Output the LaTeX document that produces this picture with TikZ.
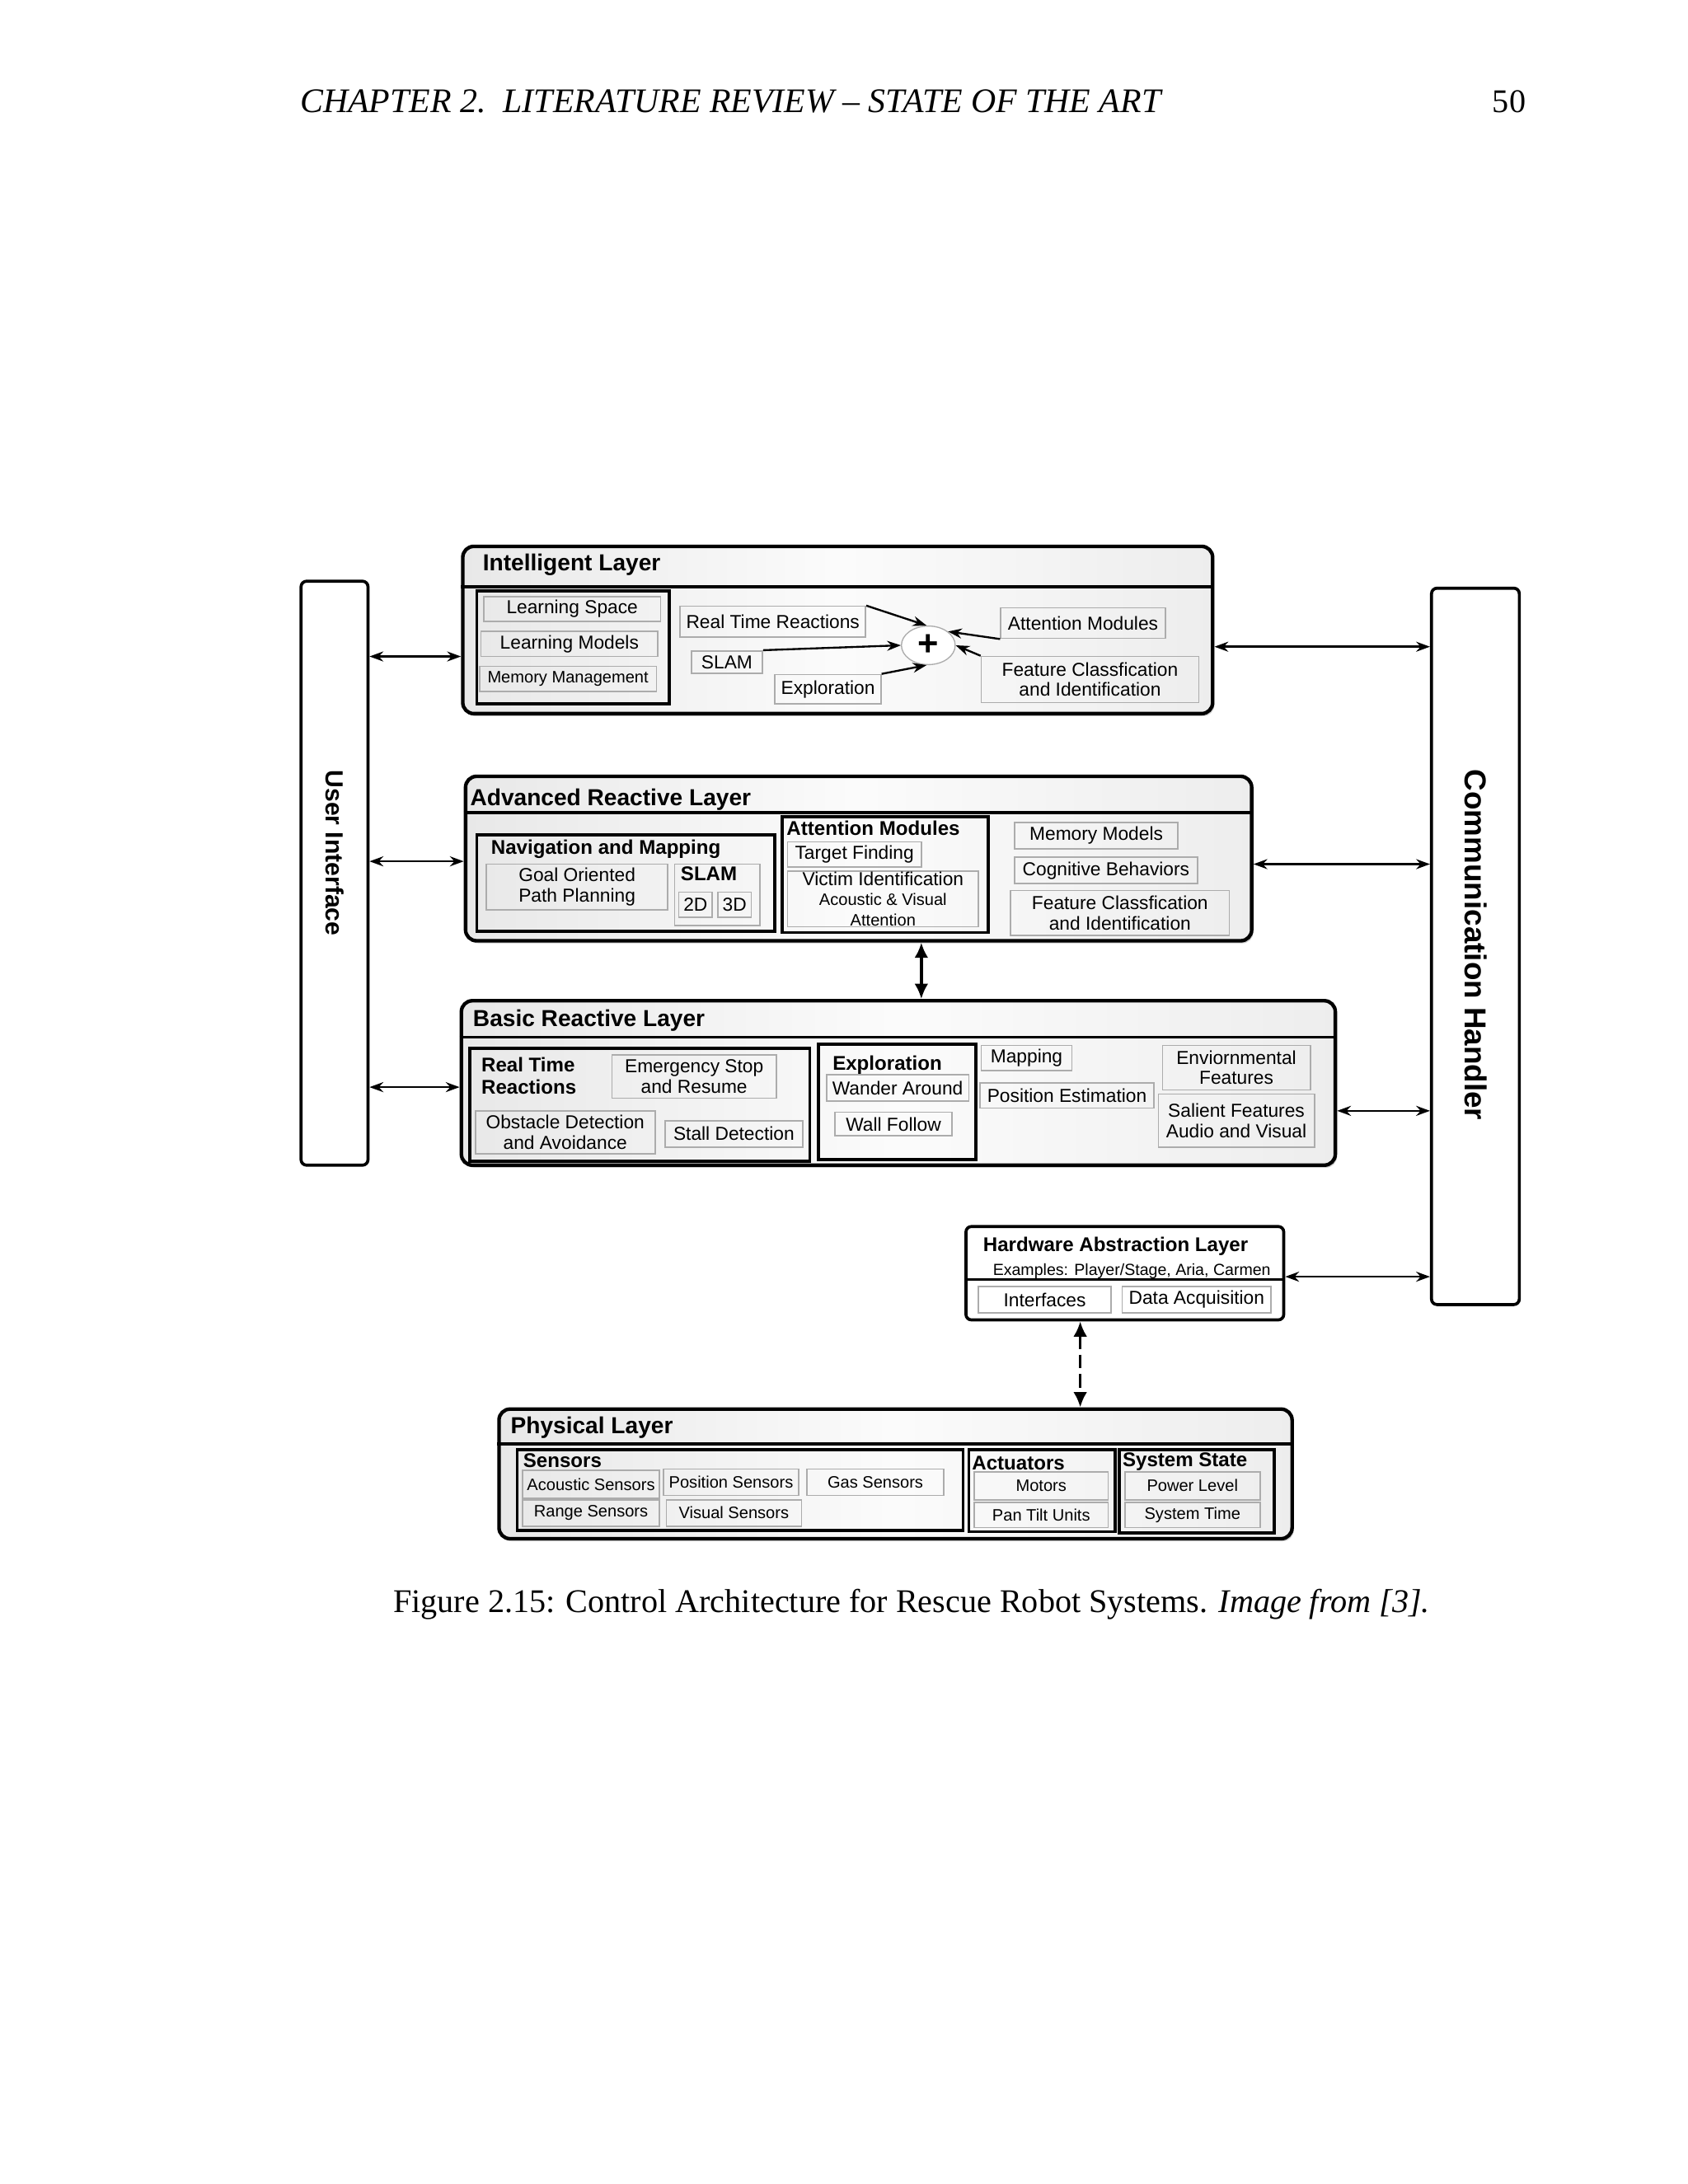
\documentclass[tikz,border=0pt]{standalone}
\usepackage{fontspec}
\setmainfont{Liberation Serif}
\setsansfont{Liberation Sans}
\usetikzlibrary{fit,arrows.meta,shapes.geometric,shadows}

\tikzset{%
	layerbox/.style={
		draw, line width=1.3pt, rounded corners=4pt, inner sep=0pt,
		drop shadow={shadow xshift=0.6pt, shadow yshift=-0.9pt, opacity=0.4},
		left color=gray!18, right color=gray!14, middle color=gray!3
	},
	groupbox/.style={draw, line width=1.1pt, inner sep=0pt},
	itembox/.style={draw=gray!65, line width=0.5pt, inner sep=0pt},
	itemtext/.style={inner sep=0pt, align=center, font=\sffamily\fontsize{6.8}{7.4}\selectfont},
	small itemtext/.style={itemtext, font=\sffamily\fontsize{6}{6.8}\selectfont},
	layer title/.style={anchor=west, inner sep=0pt, font=\sffamily\bfseries\fontsize{8.4}{10}\selectfont},
	group title/.style={anchor=west, inner sep=0pt, font=\sffamily\bfseries\fontsize{7.2}{8.2}\selectfont},
	sidebox/.style={draw, line width=1.1pt, rounded corners=2pt, fill=white, inner sep=0pt},
	biarrow/.style={<->, line width=0.8pt},
	big biarrow/.style={{Latex[length=5.5pt,width=5pt]}-{Latex[length=5.5pt,width=5pt]}, line width=1pt},
}

\begin{document}
\begin{tikzpicture}[x=0.5054pt, y=-0.5054pt, >={Stealth[length=5pt,width=3.6pt]}]
\path[fill=white, use as bounding box] (0,0) rectangle (1211,1567);

% page header and caption
\node[anchor=base west, inner sep=0pt, font=\fontsize{12.5}{14}\selectfont\itshape] (header) at (215,81) {CHAPTER 2.\ \ LITERATURE REVIEW – STATE OF THE ART};
\node[anchor=base east, inner sep=0pt, font=\fontsize{12}{14}\selectfont] (pagenum) at (1095,81) {50};
\node[anchor=base, inner sep=0pt, font=\fontsize{12}{14}\selectfont] (caption) at (654,1157) {Figure 2.15: Control Architecture for Rescue Robot Systems. \textit{Image from [3].}};

% side boxes
\node[sidebox, fit={(216,417) (264,836)}] (ui) {};
\node[rotate=-90, font=\sffamily\bfseries\fontsize{9}{10}\selectfont] (uitext) at (240,612) {User Interface};
\node[sidebox, fit={(1027,422) (1090,936)}] (ch) {};
\node[rotate=-90, font=\sffamily\bfseries\fontsize{11}{12}\selectfont] (chtext) at (1059,678) {Communication Handler};

% layers
\node[layerbox, fit={(332,392) (870,512)}] (il) {};
\node[layerbox, fit={(334,557) (898,675)}] (arl) {};
\node[layerbox, fit={(331,718) (958,836)}] (brl) {};
\node[sidebox, fit={(693,880) (921,947)}] (hal) {};
\node[layerbox, fit={(358,1011) (927,1104)}] (pl) {};
\foreach \l/\y in {il/421, arl/583, brl/744, hal/918, pl/1036}
	\draw[line width=1pt] (\l.west |- 0,\y) -- (\l.east |- 0,\y);

\node[layer title] (iltitle) at (346,405) {Intelligent Layer};
\node[layer title] (arltitle) at (337,574) {Advanced Reactive Layer};
\node[layer title] (brltitle) at (339,732) {Basic Reactive Layer};
\node[group title] (haltitle) at (705,894) {Hardware Abstraction Layer};
\node[anchor=west, inner sep=0pt, font=\sffamily\fontsize{5.85}{7}\selectfont] (halex) at (712,912) {Examples: Player/Stage, Aria, Carmen};
\node[layer title] (pltitle) at (366,1024) {Physical Layer};

% group boxes
\node[groupbox, fit={(342,424) (480,505)}] (learn) {};
\node[groupbox, fit={(342,599) (556,668)}] (nav) {};
\node[group title] (navtitle) at (352,609) {Navigation and Mapping};
\node[itembox, fit={(484,620) (545,664)}] (slamg) {};
\node[group title] (slamtitle) at (488,627) {SLAM};
\node[groupbox, fit={(561,586) (709,669)}] (attg) {};
\node[group title] (attgtitle) at (564,594) {Attention Modules};
\node[groupbox, fit={(337,752) (581,833)}] (rtrg) {};
\node[group title, align=left] (rtrgtitle) at (345,772) {Real Time\\Reactions};
\node[groupbox, fit={(587,749) (700,832)}] (explg) {};
\node[group title] (explgtitle) at (597,764) {Exploration};
\node[groupbox, fit={(371,1040) (691,1098)}] (sens) {};
\node[group title] (senstitle) at (375,1048) {Sensors};
\node[groupbox, fit={(695,1040) (800,1099)}] (act) {};
\node[group title] (acttitle) at (697,1050) {Actuators};
\node[groupbox, fit={(803,1040) (914,1100)}] (sys) {};
\node[group title] (systitle) at (805,1049) {System State};

% items
\foreach \n/\xa/\ya/\xb/\yb/\t in {lspace/347/428/474/446/Learning Space,
	lmodels/345/453/472/471/Learning Models, rtr/488/435/621/457/Real Time Reactions,
	slam/496/467/547/483/SLAM, expl/556/484/632/505/Exploration,
	attm/718/436/836/458/Attention Modules, fci/704/471/860/504/Feature Classfication\\and Identification,
	gopp/349/620/479/653/Goal Oriented\\Path Planning, slam2d/487/640/511/658/2D, slam3d/515/640/539/658/3D,
	tfind/565/604/661/622/Target Finding, memmod/728/590/845/609/Memory Models,
	cogb/728/615/859/634/Cognitive Behaviors, fci2/725/639/882/671/Feature Classfication\\and Identification,
	estop/439/757/557/788/Emergency Stop\\and Resume, obst/341/797/470/828/Obstacle Detection\\and Avoidance,
	stall/477/804/576/823/Stall Detection, wander/593/771/695/790/Wander Around,
	wall/599/798/683/815/Wall Follow, mapping/704/750/769/768/Mapping,
	posest/703/777/828/795/Position Estimation, envf/834/750/940/782/Enviornmental\\Features,
	salf/831/785/943/823/Salient Features\\Audio and Visual,
	intf/702/923/797/942/Interfaces, daq/805/923/912/942/Data Acquisition}
{
	\node[itembox, fit={(\xa,\ya) (\xb,\yb)}] (\n) {};
	\node[itemtext] (\n-t) at (\n) {\t};
}

\foreach \n/\xa/\ya/\xb/\yb/\t in {memman/344/478/471/496/Memory Management,
	acs/375/1055/473/1075/Acoustic Sensors, poss/476/1054/573/1073/Position Sensors,
	gas/579/1054/677/1073/Gas Sensors, rng/375/1076/473/1095/Range Sensors,
	vis/478/1076/575/1095/Visual Sensors, motors/699/1056/795/1076/Motors,
	pan/699/1078/795/1096/Pan Tilt Units, power/807/1056/904/1076/Power Level,
	systime/807/1078/904/1096/System Time}
{
	\node[itembox, fit={(\xa,\ya) (\xb,\yb)}] (\n) {};
	\node[small itemtext] (\n-t) at (\n) {\t};
}

\node[itembox, fit={(565,625) (702,665)}] (victim) {};
\node[itemtext] (victim-t) at (victim) {Victim Identification\\{\fontsize{6}{6.6}\selectfont Acoustic \& Visual}\\{\fontsize{6}{6.6}\selectfont Attention}};

% summing junction
\node[ellipse, draw=gray!65, fill=white, minimum width=19.5pt, minimum height=14pt, inner sep=0pt,
	font=\sffamily\bfseries\fontsize{13}{13}\selectfont] (plus) at (666,463) {+};
\draw[->, line width=0.7pt] (rtr.north east) -- (plus.95);
\draw[->, line width=0.7pt] (slam.north east) -- (plus.west);
\draw[->, line width=0.7pt] (expl.north east) -- (plus.265);
\draw[->, line width=0.7pt] (attm.south west) -- (plus.35);
\draw[->, line width=0.7pt] (fci.north west) -- (plus.east);

% connections
\foreach \l/\y in {il/471, arl/618, brl/780}
	\draw[biarrow] (ui.east |- 0,\y) -- (\l.west |- 0,\y);
\foreach \l/\y in {il/464, arl/620, brl/797, hal/916}
	\draw[biarrow] (\l.east |- 0,\y) -- (ch.west |- 0,\y);
\draw[big biarrow] (arl.south -| 661,0) -- (brl.north -| 661,0);
\draw[big biarrow, dash pattern=on 5pt off 2pt] (hal.south -| 775,0) -- (pl.north -| 775,0);

\end{tikzpicture}
\end{document}
